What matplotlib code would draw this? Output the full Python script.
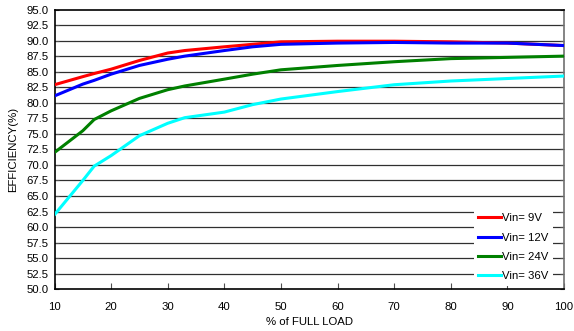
import matplotlib
matplotlib.use("Agg")
import matplotlib.pyplot as plt
import numpy as np

plt.rcParams['font.family'] = ['Liberation Sans', 'DejaVu Sans']

load = [10, 15, 17, 20, 25, 30, 33, 40, 45, 50, 60, 70, 80, 90, 100]
vin9 = [82.9, 84.2, 84.7, 85.4, 86.8, 88.0, 88.4, 89.0, 89.4, 89.8, 89.9, 89.9, 89.8, 89.6, 89.2]
vin12 = [81.1, 83.0, 83.6, 84.6, 86.0, 87.0, 87.5, 88.4, 89.0, 89.4, 89.6, 89.7, 89.6, 89.6, 89.2]
vin24 = [72.0, 75.5, 77.3, 78.7, 80.7, 82.1, 82.7, 83.8, 84.6, 85.3, 86.0, 86.6, 87.1, 87.3, 87.5]
vin36 = [62.0, 67.5, 69.8, 71.5, 74.7, 76.7, 77.6, 78.5, 79.7, 80.6, 81.8, 82.9, 83.5, 83.9, 84.3]
labels = ['Vin= 9V', 'Vin= 12V', 'Vin= 24V', 'Vin= 36V']
colors = ['#ff0000', '#0000ff', '#008000', '#00ffff']
yticks = np.arange(50.0, 95.01, 2.5)
xticks = list(range(10, 101, 10))

fig = plt.figure(figsize=(5.74, 3.31), dpi=100)
ax = fig.add_axes([54.5/574, 1-289.3/331, (564-54.5)/574, (289.3-9.5)/331])

for yv in yticks[1:-1]:
    ax.axhline(yv, color='#303030', lw=0.9, zorder=1)

for s, lab, c in zip([vin9, vin12, vin24, vin36], labels, colors):
    ax.plot(load, s, color=c, lw=2.2, label=lab, zorder=3)

ax.set_xlim(10, 100)
ax.set_ylim(50, 95)
ax.set_xticks(xticks)
ax.set_yticks(yticks)
ax.set_yticklabels([f"{v:.1f}" for v in yticks])
ax.tick_params(axis='x', direction='in', length=4, labelsize=8.2, pad=9, color='#505050')
ax.tick_params(axis='y', direction='in', length=3, labelsize=8.2, pad=4, right=True, color='#505050')
for sp in ax.spines.values():
    sp.set_linewidth(1.2)
ax.spines['right'].set_color('#707070')

ax.set_xlabel('% of FULL LOAD', fontsize=8.2, labelpad=4)
ax.set_ylabel('EFFICIENCY(%)', fontsize=8.2, labelpad=6)

leg = ax.legend(loc='lower right', bbox_to_anchor=(0.985, 0.0), fontsize=8.2, frameon=True,
                handlelength=2.0, handletextpad=0.1, labelspacing=0.82, borderpad=0.4,
                borderaxespad=0.3)
leg.get_frame().set_edgecolor('none')
leg.get_frame().set_facecolor('white')
leg.get_frame().set_alpha(1)
leg.set_zorder(5)

fig.savefig('out.png', dpi=100)
